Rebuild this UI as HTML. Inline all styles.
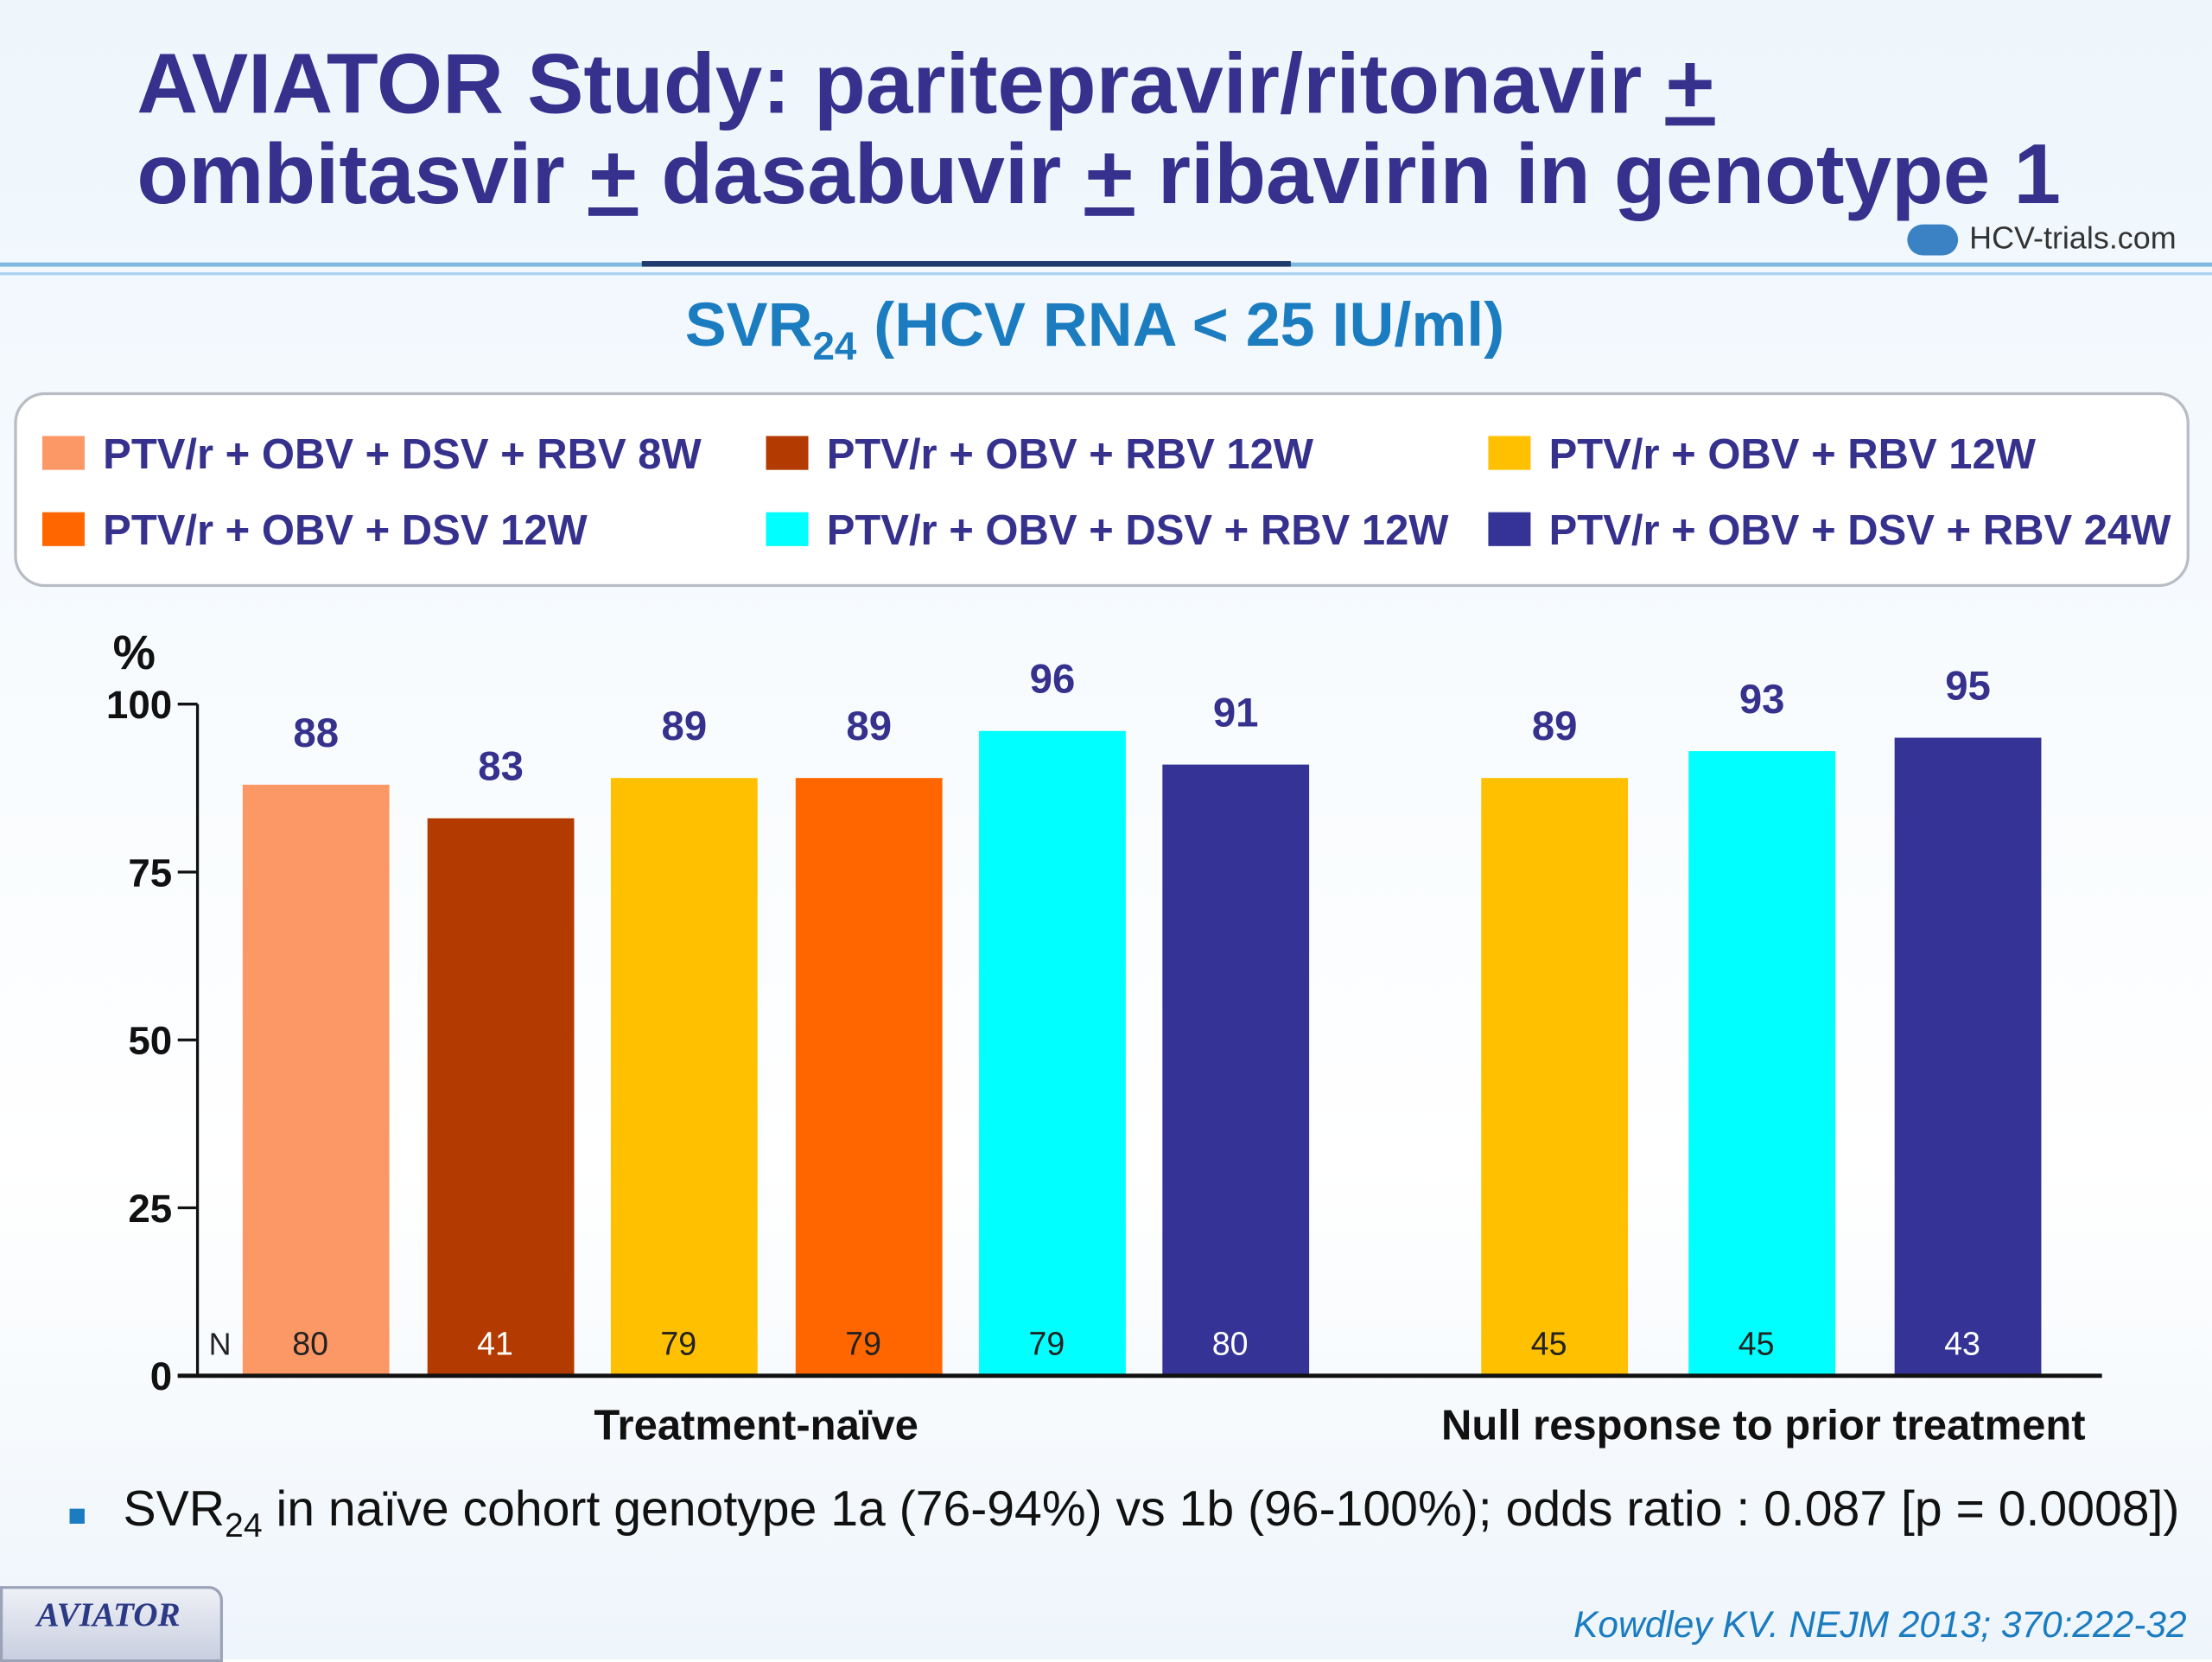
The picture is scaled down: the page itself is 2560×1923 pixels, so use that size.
<!DOCTYPE html>
<html><head><meta charset="utf-8"><style>
html,body{margin:0;padding:0;width:2560px;height:1920px;overflow:hidden;background:#fff}
#wrap{position:absolute;left:0;top:0;width:1568px;height:1176px;transform:scale(1.63265);transform-origin:0 0;
background:linear-gradient(180deg,#eef6fc 0%,#f7fbfe 40%,#ffffff 70%,#eef5fb 100%);font-family:"Liberation Sans",sans-serif}
.t{position:absolute;white-space:nowrap}
</style></head><body>
<div id="wrap">
<div class="t" style="left:97px;top:28px;font-size:60px;font-weight:bold;color:#35318d;line-height:64px">AVIATOR Study: paritepravir/ritonavir <u>+</u><br>ombitasvir <u>+</u> dasabuvir <u>+</u> ribavirin in genotype 1</div>
<div style="position:absolute;left:0;top:186px;width:1568px;height:3px;background:#7fb8e0"></div>
<div style="position:absolute;left:455px;top:185px;width:460px;height:4px;background:#1f3b6e"></div>
<div style="position:absolute;left:0;top:193px;width:1568px;height:2px;background:#a9d2ee"></div>
<div class="t" style="left:1352px;top:156px;font-size:22px;color:#333"><span style="display:inline-block;width:36px;height:22px;border-radius:11px;background:#3a82c4;vertical-align:middle;margin-right:8px"></span>HCV-trials.com</div>
<div class="t" style="left:0;width:1552px;text-align:center;top:206px;font-size:44px;font-weight:bold;color:#1b7cc0">SVR<sub style="font-size:28px">24</sub> (HCV RNA &lt; 25 IU/ml)</div>
<div style="position:absolute;left:10px;top:278px;width:1538px;height:134px;border:2px solid #b8bcc4;border-radius:22px;background:#fff"></div>
<svg id="chart" width="1568" height="1176" style="position:absolute;left:0;top:0"></svg>
<div class="t" style="left:48px;top:1050px;font-size:35px;color:#111"><span style="color:#1b7cc0;font-size:22px;margin-right:26px">■</span>SVR<sub style="font-size:24px">24</sub> in naïve cohort genotype 1a (76-94%) vs 1b (96-100%); odds ratio : 0.087 [p = 0.0008])</div>
<div style="position:absolute;left:0;top:1124px;width:154px;height:50px;background:linear-gradient(#eef0f6,#c9cfe0);border:2px solid #9aa3b8;border-radius:0 10px 0 0"><span class="t" style="left:24px;top:6px;font-family:'Liberation Serif',serif;font-style:italic;font-weight:bold;font-size:24px;color:#2c3a86">AVIATOR</span></div>
<div class="t" style="right:18px;top:1136px;font-size:26px;font-style:italic;color:#1b7cc0">Kowdley KV. NEJM 2013; 370:222-32</div>
</div>
<script>
const legendLabels=["PTV/r + OBV + DSV + RBV 8W","PTV/r + OBV + RBV 12W","PTV/r + OBV + RBV 12W","PTV/r + OBV + DSV 12W","PTV/r + OBV + DSV + RBV 12W","PTV/r + OBV + DSV + RBV 24W"];
const legendColors=["#fc9866","#b33a00","#ffc000","#ff6600","#00ffff","#353496"];
const barValues=[88,83,89,89,96,91,89,93,95];
const barN=[80,41,79,79,79,80,45,45,43];
const barColors=["#fc9866","#b33a00","#ffc000","#ff6600","#00ffff","#353496","#ffc000","#00ffff","#353496"];
const barX=[172,303,433,564,694,824,1050,1197,1343];
const yTicks=[0,25,50,75,100];
const groupLabels=["Treatment-naïve","Null response to prior treatment"];
const NS="http://www.w3.org/2000/svg";
const svg=document.getElementById('chart');
const y0=975,k=4.76;
function ys(v){return y0-v*k;}
function mk(tag,at,txt){const e=document.createElementNS(NS,tag);for(const a in at)e.setAttribute(a,at[a]);if(txt!==undefined)e.textContent=txt;svg.appendChild(e);return e;}
const lx=[30,543,1055],ly=[321,375];
legendLabels.forEach((l,i)=>{const c=i%3,r=Math.floor(i/3);
 const s=mk('rect',{x:lx[c],y:ly[r]-12,width:30,height:24,fill:legendColors[i]});
 
 const t=mk('text',{x:lx[c]+43,y:ly[r]+11,'font-size':30,'font-weight':'bold',fill:'#35318d','font-family':'Liberation Sans, sans-serif'},l);
 });
const yl=mk('text',{x:80,y:474,'font-size':34,'font-weight':'bold',fill:'#111'},'%');

const ax=mk('line',{x1:140,y1:ys(100),x2:140,y2:y0,stroke:'#111','stroke-width':2});

yTicks.forEach(v=>{const tk=mk('line',{x1:126,y1:ys(v),x2:140,y2:ys(v),stroke:'#111','stroke-width':2});
 
 const t=mk('text',{x:122,y:ys(v)+10,'font-size':28,'font-weight':'bold','text-anchor':'end',fill:'#111'},v);
 });
const nl=mk('text',{x:148,y:960,'font-size':22,fill:'#222'},'N');

barValues.forEach((v,i)=>{const x=barX[i],w=104;
 const b=mk('rect',{x:x,y:ys(v),width:w,height:y0-ys(v),fill:barColors[i]});
 
 const t=mk('text',{x:x+w/2,y:ys(v)-27,'font-size':29,'font-weight':'bold','text-anchor':'middle',fill:'#35318d'},v);
 
 const dark=['#b33a00','#353496'].includes(barColors[i]);
 const n=mk('text',{x:x+w/2-4,y:960,'font-size':23,'text-anchor':'middle',fill:dark?'#fff':'#222'},barN[i]);
 });
const xa=mk('line',{x1:126,y1:y0,x2:1490,y2:y0,stroke:'#111','stroke-width':3});

[536,1250].forEach((cx,i)=>{const t=mk('text',{x:cx,y:1020,'font-size':30,'font-weight':'bold','text-anchor':'middle',fill:'#111'},groupLabels[i]);
 });
</script>
</body></html>
